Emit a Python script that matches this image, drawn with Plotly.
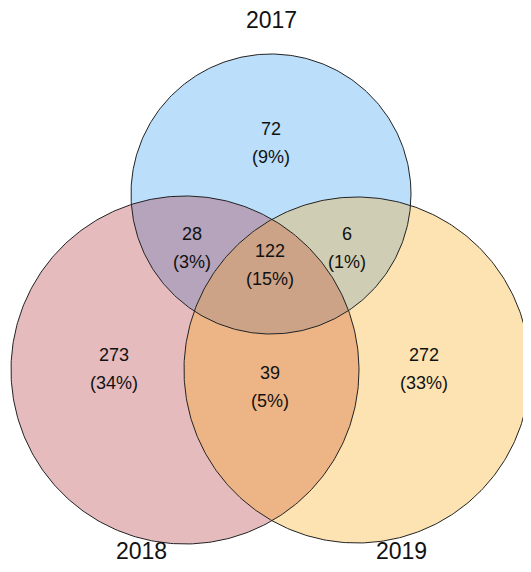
import numpy as np
import plotly.graph_objects as go

# ---- data ----
set_names = ["2017", "2018", "2019"]
region_keys = ["100", "010", "001", "110", "101", "011", "111"]
region_counts = [72, 273, 272, 28, 6, 39, 122]
region_pcts = ["9%", "34%", "33%", "3%", "1%", "5%", "15%"]

# ---- layout geometry (page-pixel-like data coordinates) ----
PAGE_W, PAGE_H = 531, 572
OFF = 8  # page body margin
W, H = PAGE_W - 2 * OFF, PAGE_H - 2 * OFF
circles = {
    "2017": (271.0, 194.0, 140.0),
    "2018": (185.0, 370.0, 174.0),
    "2019": (357.0, 370.0, 173.0),
}
set_label_pos = {"2017": (271, 20), "2018": (141, 551), "2019": (401, 551)}
region_label_pos = {
    "100": (271, 143), "010": (114, 369), "001": (424, 369),
    "110": (192, 248), "101": (347, 248), "011": (270, 387),
    "111": (270, 265),
}
region_colors = {
    "100": "#BBDEFB", "010": "#E6BBBE", "001": "#FDE3B1",
    "110": "#B6A4BC", "101": "#CFCDB3", "011": "#EDB485",
    "111": "#CCA386",
}


def inside(p, c, tol=1e-6):
    return (p[0] - c[0]) ** 2 + (p[1] - c[1]) ** 2 <= c[2] ** 2 + tol


def intersections(c1, c2):
    x1, y1, r1 = c1
    x2, y2, r2 = c2
    d = np.hypot(x2 - x1, y2 - y1)
    a = (d * d + r1 * r1 - r2 * r2) / (2 * d)
    h = np.sqrt(max(r1 * r1 - a * a, 0))
    xm = x1 + a * (x2 - x1) / d
    ym = y1 + a * (y2 - y1) / d
    return [(xm + h * (y2 - y1) / d, ym - h * (x2 - x1) / d),
            (xm - h * (y2 - y1) / d, ym + h * (x2 - x1) / d)]


def arc(c, p, q, tests, n=200):
    cx, cy, r = c
    a1 = np.arctan2(p[1] - cy, p[0] - cx)
    a2 = np.arctan2(q[1] - cy, q[0] - cx)
    ccw = (a2 - a1) % (2 * np.pi)
    cw = -((a1 - a2) % (2 * np.pi))
    for span in (ccw, cw):
        mid = a1 + span / 2
        mp = (cx + r * np.cos(mid), cy + r * np.sin(mid))
        if all(inside(mp, t) for t in tests):
            t = a1 + np.linspace(0, span, n)
            return list(cx + r * np.cos(t)), list(cy + r * np.sin(t))
    t = a1 + np.linspace(0, ccw, n)
    return list(cx + r * np.cos(t)), list(cy + r * np.sin(t))


def full_circle(c, n=400):
    t = np.linspace(0, 2 * np.pi, n)
    return list(c[0] + c[2] * np.cos(t)), list(c[1] + c[2] * np.sin(t))


def lens(a, b):
    p1, p2 = intersections(a, b)
    xa, ya = arc(a, p1, p2, [b])
    xb, yb = arc(b, p2, p1, [a])
    return xa + xb, ya + yb


def triple(a, b, c):
    vab = [p for p in intersections(a, b) if inside(p, c, 1.0)][0]
    vac = [p for p in intersections(a, c) if inside(p, b, 1.0)][0]
    vbc = [p for p in intersections(b, c) if inside(p, a, 1.0)][0]
    x1, y1 = arc(a, vab, vac, [b, c])
    x2, y2 = arc(c, vac, vbc, [a, b])
    x3, y3 = arc(b, vbc, vab, [a, c])
    return x1 + x2 + x3, y1 + y2 + y3


A, B, C = circles["2017"], circles["2018"], circles["2019"]

fig = go.Figure()


def add_fill(xy, color):
    fig.add_trace(go.Scatter(x=xy[0], y=xy[1], fill="toself", fillcolor=color,
                             mode="lines", line=dict(width=0, color=color),
                             hoverinfo="skip", showlegend=False))


add_fill(full_circle(B), region_colors["010"])
add_fill(full_circle(C), region_colors["001"])
add_fill(lens(B, C), region_colors["011"])
add_fill(full_circle(A), region_colors["100"])
add_fill(lens(A, B), region_colors["110"])
add_fill(lens(A, C), region_colors["101"])
add_fill(triple(A, B, C), region_colors["111"])

for name in set_names:
    xs, ys = full_circle(circles[name])
    fig.add_trace(go.Scatter(x=xs, y=ys, mode="lines",
                             line=dict(color="#222222", width=1),
                             hoverinfo="skip", showlegend=False))

font_family = "Liberation Sans, Arial, sans-serif"
for key, cnt, pct in zip(region_keys, region_counts, region_pcts):
    x, y = region_label_pos[key]
    fig.add_annotation(x=x, y=y, text=str(cnt), showarrow=False, yshift=14,
                       font=dict(size=18, color="#111111", family=font_family))
    fig.add_annotation(x=x, y=y, text=f"({pct})", showarrow=False, yshift=-14,
                       font=dict(size=18, color="#111111", family=font_family))

for name in set_names:
    x, y = set_label_pos[name]
    fig.add_annotation(x=x, y=y, text=name, showarrow=False,
                       font=dict(size=23, color="#111111", family=font_family))

fig.update_layout(
    width=W, height=H,
    margin=dict(l=0, r=0, t=0, b=0),
    plot_bgcolor="white", paper_bgcolor="white",
    xaxis=dict(range=[OFF, OFF + W], visible=False, fixedrange=True),
    yaxis=dict(range=[OFF + H, OFF], visible=False, fixedrange=True),
    showlegend=False,
)

fig.write_html("out.html")
